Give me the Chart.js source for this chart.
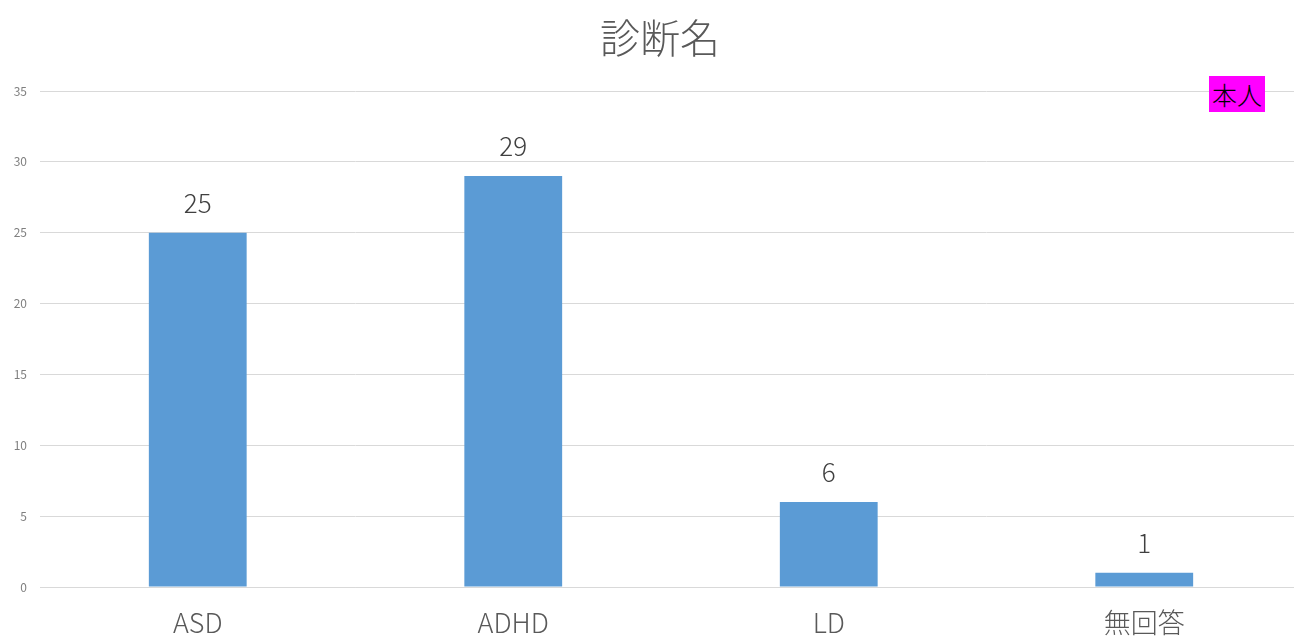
<!DOCTYPE html>
<html><head><meta charset="utf-8">
<script src="https://cdn.jsdelivr.net/npm/chart.js@4/dist/chart.umd.min.js"></script>
<style>
html,body{margin:0;padding:0;background:#fff;overflow:hidden;width:1294px;height:644px;}
#wrap{position:relative;width:1302px;height:644px;}
#note{position:absolute;left:1209px;top:76px;width:56px;height:36px;background:#ff00ff;color:#000;
font-family:"Noto Sans CJK JP";font-size:25px;line-height:36px;text-align:center;font-weight:300;}
</style></head>
<body>
<div id="wrap"><canvas id="c" width="1302" height="644"></canvas><div id="note">本人</div></div>
<script>
const categories = ["ASD", "ADHD", "LD", "無回答"];
const values = [25, 29, 6, 1];
const yTicks = [0, 5, 10, 15, 20, 25, 30, 35];
const titleText = "診断名";

const labelPlugin = {
  id: 'valLabels',
  afterLayout(chart) {
    const t = chart.titleBlock;
    if (t) { t.left += 9; t.right += 9; }
  },
  afterDatasetsDraw(chart) {
    const ctx = chart.ctx;
    const meta = chart.getDatasetMeta(0);
    ctx.save();
    ctx.font = '300 26px "Noto Sans CJK JP"';
    ctx.fillStyle = '#404040';
    ctx.textAlign = 'center';
    ctx.textBaseline = 'middle';
    meta.data.forEach((el, i) => {
      ctx.fillText(String(values[i]), el.x, el.y - 30);
    });
    ctx.restore();
  }
};

new Chart(document.getElementById('c'), {
  type: 'bar',
  data: {
    labels: categories,
    datasets: [{ data: values, backgroundColor: '#5b9bd5', categoryPercentage: 1, barPercentage: 0.31 }]
  },
  options: {
    responsive: false,
    animation: false,
    layout: { padding: { left: 0, right: 0, top: 0, bottom: 0 } },
    plugins: {
      legend: { display: false },
      tooltip: { enabled: false },
      title: {
        display: true, text: titleText, color: '#595959',
        font: { family: '"Noto Sans CJK JP"', size: 40, weight: 300 },
        padding: { top: 14, bottom: 29 }
      }
    },
    scales: {
      x: {
        grid: { display: false, drawTicks: false },
        border: { display: true, color: '#d9d9d9' },
        ticks: { color: '#595959', font: { family: '"Noto Sans CJK JP"', size: 27, weight: 300 }, padding: 20, maxRotation: 0 },
        afterFit(s) { s.height = 57; }
      },
      y: {
        min: 0, max: 35,
        afterBuildTicks(s) { s.ticks = yTicks.map(v => ({ value: v })); },
        grid: { color: '#d9d9d9', drawTicks: false },
        border: { display: false },
        ticks: { color: '#7f7f7f', font: { family: '"Noto Sans CJK JP"', size: 12 }, padding: 13 },
        afterFit(s) { s.width = 40; }
      }
    }
  },
  plugins: [labelPlugin]
});
</script>
</body></html>
